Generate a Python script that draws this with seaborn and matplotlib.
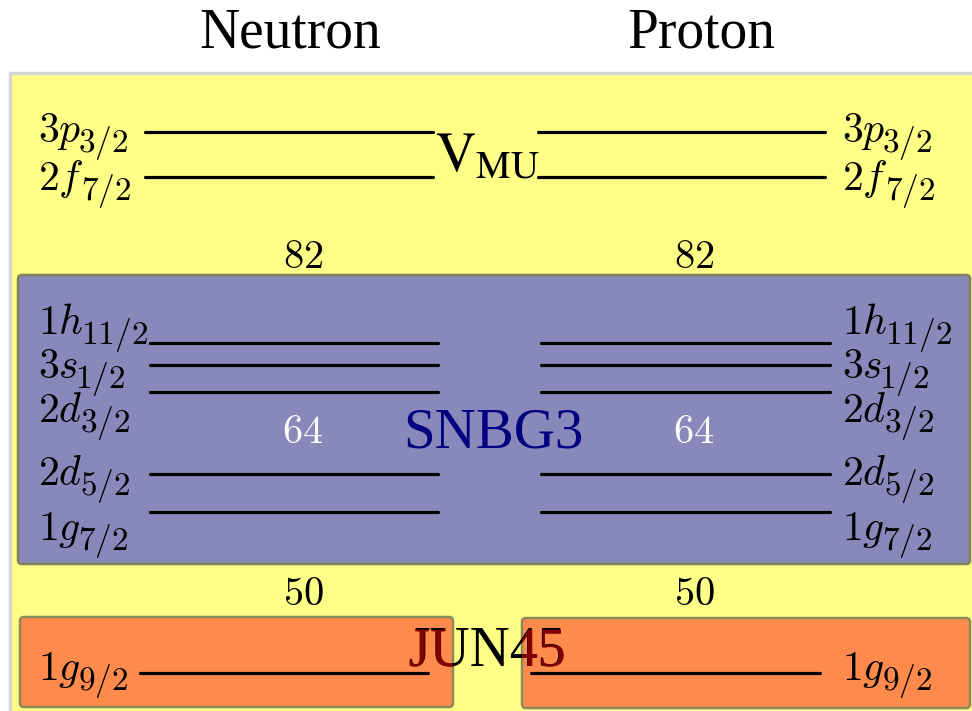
import matplotlib
matplotlib.use("Agg")
import matplotlib.pyplot as plt
import matplotlib.patheffects as pe
from matplotlib.patches import FancyBboxPatch, Rectangle
import seaborn as sns
import pandas as pd

# shell-model orbits per model space (level value = vertical position in diagram units)
vmu_orbits = [("3p", "3/2"), ("2f", "7/2")]
vmu_levels = [132, 177]
snbg3_orbits = [("1h", "11/2"), ("3s", "1/2"), ("2d", "3/2"), ("2d", "5/2"), ("1g", "7/2")]
snbg3_levels = [343, 365, 392, 474, 512]
jun45_orbits = [("1g", "9/2")]
jun45_levels = [673]

magic_numbers = ["82", "64", "50"]
magic_levels = [268, 443, 605]

model_names = ["V_MU", "SNBG3", "JUN45"]
sides = ["Neutron", "Proton"]

# horizontal extents of the level lines (neutron, proton)
vmu_span = [(145, 433), (538, 825)]
snbg3_span = [(150, 438), (541, 830)]
jun45_span = [(140, 428), (531, 820)]

# label baselines
vmu_label_y = [142, 190]
snbg3_label_y = [334, 378, 422, 485, 540]
jun45_label_y = [680]

sns.set_theme(style="white")
plt.rcParams["font.family"] = ["Liberation Serif", "DejaVu Serif"]
plt.rcParams["text.color"] = "black"

fig = plt.figure(figsize=(9.72, 7.11), dpi=100)
ax = fig.add_axes([0, 0, 1, 1])

# level lines via seaborn
rows = []
seg = 0
for levels, spans in [(vmu_levels, vmu_span), (snbg3_levels, snbg3_span),
                      (jun45_levels, jun45_span)]:
    for lv in levels:
        for x0, x1 in spans:
            rows.append({"x": x0, "y": lv, "seg": seg})
            rows.append({"x": x1, "y": lv, "seg": seg})
            seg += 1
df = pd.DataFrame(rows)
sns.lineplot(data=df, x="x", y="y", units="seg", estimator=None, sort=False,
             color="black", lw=2.3, legend=False, ax=ax, zorder=3)
ax.set_xlim(0, 972)
ax.set_ylim(711, 0)
ax.axis("off")

# backgrounds
ax.add_patch(Rectangle((10, 73), 980, 660, facecolor="#ffff88",
                       edgecolor="#d6d6d6", lw=2.5, zorder=0))
ax.add_patch(FancyBboxPatch((18, 275), 952, 289, boxstyle="round,pad=0,rounding_size=4",
                            facecolor="#8888bb", edgecolor="#80805a", lw=1.8, zorder=1))
orange_boxes = []
for x0, x1, y0 in [(20, 453, 617), (522, 970, 618)]:
    p = FancyBboxPatch((x0, y0), x1 - x0, 90, boxstyle="round,pad=0,rounding_size=4",
                       facecolor="#ff8a4c", edgecolor="#8a8a5a", lw=1.8, zorder=1)
    ax.add_patch(p)
    orange_boxes.append(p)

renderer = fig.canvas.get_renderer()
inv = ax.transData.inverted()


def orbit_label(x, y, main, sub):
    # main symbol plus a larger-than-default subscript, like the LaTeX original
    t = ax.text(x, y, f"${main}$", fontsize=30, math_fontfamily="cm",
                ha="left", va="baseline", zorder=4)
    bb = t.get_window_extent(renderer)
    x_end = inv.transform((bb.x1, bb.y0))[0]
    ax.text(x_end - 3, y + 10, f"${sub}$", fontsize=24, math_fontfamily="cm",
            ha="left", va="baseline", zorder=4)


for orbits, ys in [(vmu_orbits, vmu_label_y), (snbg3_orbits, snbg3_label_y),
                   (jun45_orbits, jun45_label_y)]:
    for (main, sub), y in zip(orbits, ys):
        orbit_label(38, y, main, sub)
        orbit_label(842, y, main, sub)

# magic numbers
for num, y in zip(magic_numbers, magic_levels):
    col = "white" if num == "64" else "black"
    for xc in (303, 694):
        ax.text(xc, y, f"${num}$", fontsize=29, math_fontfamily="cm",
                ha="center", va="baseline", color=col, zorder=4)

# side titles
for name, xc in zip(sides, (290, 701)):
    ax.text(xc, 48, name, fontsize=40, ha="center", va="baseline")

# model-space names
ax.text(487, 171, r"$\mathrm{V}_{\mathrm{MU}}$", fontsize=40, math_fontfamily="stix",
        ha="center", va="baseline", zorder=4)
ax.text(493, 448, model_names[1], fontsize=41, color="#000080",
        ha="center", va="baseline", zorder=4)
ax.text(487, 666, model_names[2], fontsize=40, color="black",
        ha="center", va="baseline", zorder=4)
# the part of JUN45 lying on the orange boxes is dark red
for p in orange_boxes:
    t = ax.text(487, 666, model_names[2], fontsize=40, color="#800000",
                ha="center", va="baseline", zorder=5, clip_on=True,
                path_effects=[pe.Normal()])
    t.set_clip_path(p)

fig.savefig("out.png", dpi=100)
